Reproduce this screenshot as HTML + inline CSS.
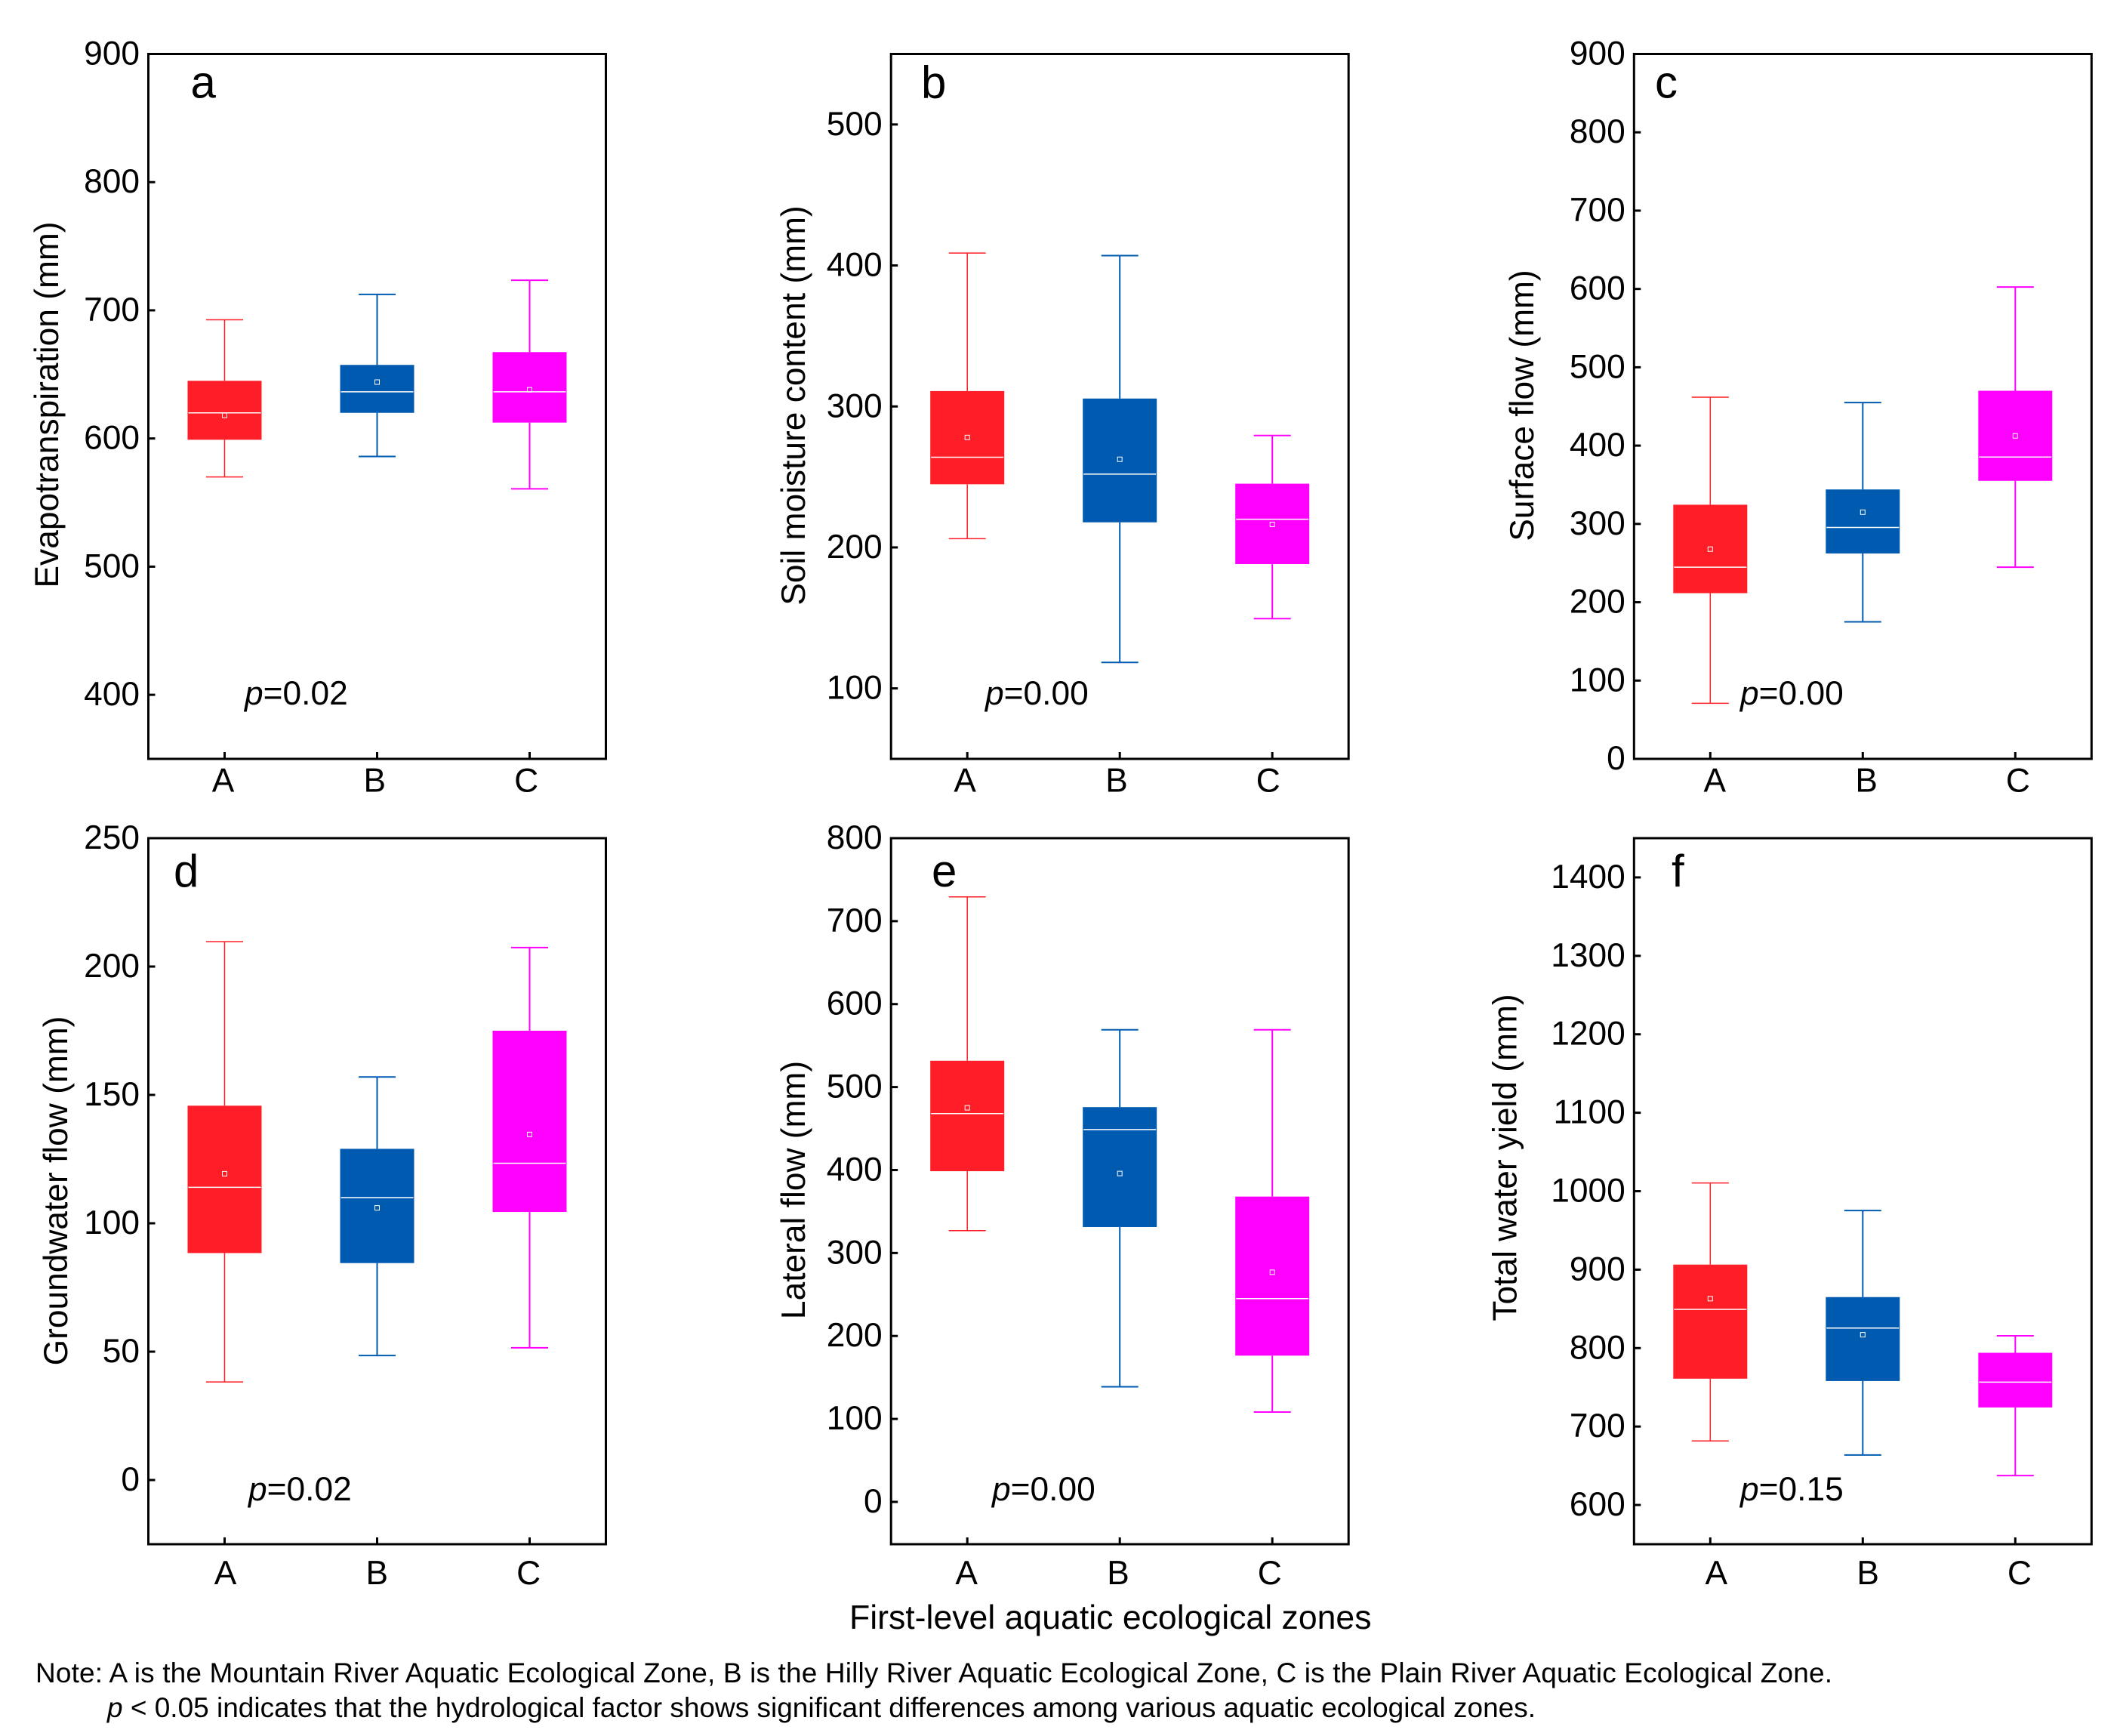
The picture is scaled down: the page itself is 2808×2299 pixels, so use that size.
<!DOCTYPE html>
<html lang="en">
<head>
<meta charset="utf-8">
<title>Hydrological factors across first-level aquatic ecological zones</title>
<style>
  html, body { margin: 0; padding: 0; background: #ffffff; }
  svg { display: block; font-family: "Liberation Sans", Arial, sans-serif; fill: #000; }
</style>
</head>
<body>
<svg id="figure" xmlns="http://www.w3.org/2000/svg" width="2808" height="2299" viewBox="0 0 2808 2299">
  <rect x="0" y="0" width="2808" height="2299" fill="#ffffff"/>
  <g id="panels"></g>

  <g font-size="60">
    <text x="252.5" y="129.5">a</text>
    <text x="1220" y="129.5">b</text>
    <text x="2192" y="129.5">c</text>
    <text x="230" y="1174">d</text>
    <text x="1234" y="1174">e</text>
    <text x="2214" y="1174">f</text>
  </g>

  <g font-size="44.3" text-anchor="middle">
    <text transform="translate(77 536) rotate(-90)">Evapotranspiration (mm)</text>
    <text transform="translate(1066 537) rotate(-90)">Soil moisture content (mm)</text>
    <text transform="translate(2031 537) rotate(-90)">Surface flow (mm)</text>
    <text transform="translate(89 1577) rotate(-90)">Groundwater flow (mm)</text>
    <text transform="translate(1066 1576) rotate(-90)">Lateral flow (mm)</text>
    <text transform="translate(2008.5 1533) rotate(-90)">Total water yield (mm)</text>
  </g>

  <g font-size="44.3">
    <text x="324" y="933"><tspan font-style="italic">p</tspan>=0.02</text>
    <text x="1305" y="933"><tspan font-style="italic">p</tspan>=0.00</text>
    <text x="2305" y="933"><tspan font-style="italic">p</tspan>=0.00</text>
    <text x="329" y="1987"><tspan font-style="italic">p</tspan>=0.02</text>
    <text x="1314" y="1987"><tspan font-style="italic">p</tspan>=0.00</text>
    <text x="2305" y="1987"><tspan font-style="italic">p</tspan>=0.15</text>
  </g>

  <text x="1125" y="2157" font-size="44.6">First-level aquatic ecological zones</text>

  <g font-size="37">
    <text x="47" y="2228" textLength="2380" lengthAdjust="spacing">Note: A is the Mountain River Aquatic Ecological Zone, B is the Hilly River Aquatic Ecological Zone, C is the Plain River Aquatic Ecological Zone.</text>
    <text x="142" y="2274" textLength="1892" lengthAdjust="spacing"><tspan font-style="italic">p</tspan> &lt; 0.05 indicates that the hydrological factor shows significant differences among various aquatic ecological zones.</text>
  </g>
</svg>

<script>
// ---------- chart data ----------
const categories = ['A', 'B', 'C'];

const evapTicks = [400, 500, 600, 700, 800, 900];
const evapHigh = [692.6, 712.4, 723.5];
const evapQ3 = [645, 657.4, 667.4];
const evapMedian = [620, 636.4, 636.4];
const evapMean = [618, 644, 638];
const evapQ1 = [599, 620, 612.4];
const evapLow = [570, 586, 560.7];

const soilTicks = [100, 200, 300, 400, 500];
const soilHigh = [408.8, 407, 279.4];
const soilQ3 = [310.9, 305.6, 245.2];
const soilMedian = [264, 252, 220];
const soilMean = [278, 262.5, 216.3];
const soilQ1 = [244.8, 217.8, 188.2];
const soilLow = [206.2, 118.4, 149.5];

const surfaceTicks = [0, 100, 200, 300, 400, 500, 600, 700, 800, 900];
const surfaceHigh = [461.8, 455, 602.4];
const surfaceQ3 = [324.5, 344, 470];
const surfaceMedian = [244.8, 295.5, 385.4];
const surfaceMean = [267.8, 315, 412.4];
const surfaceQ1 = [211.6, 262.3, 355];
const surfaceLow = [71, 175, 244.8];

const groundTicks = [0, 50, 100, 150, 200, 250];
const groundHigh = [209.7, 157, 207.4];
const groundQ3 = [145.8, 129, 175];
const groundMedian = [114, 110, 123.4];
const groundMean = [119.3, 106, 134.6];
const groundQ1 = [88.4, 84.5, 104.4];
const groundLow = [38.2, 48.5, 51.5];

const lateralTicks = [0, 100, 200, 300, 400, 500, 600, 700, 800];
const lateralHigh = [729.2, 569, 569];
const lateralQ3 = [531.7, 475.8, 368];
const lateralMedian = [468, 448.8, 245];
const lateralMean = [475, 395.8, 276.8];
const lateralQ1 = [398.6, 331.3, 176.3];
const lateralLow = [327, 138.8, 108.3];

const yieldTicks = [600, 700, 800, 900, 1000, 1100, 1200, 1300, 1400];
const yieldHigh = [1010.5, 975.3, 815.7];
const yieldQ3 = [906.4, 865, 794];
const yieldMedian = [849.4, 825.5, 756.6];
const yieldMean = [863, 817, null]; // the mean marker for zone C is not visible in this panel
const yieldQ1 = [761, 758, 724.3];
const yieldLow = [681.6, 663.7, 637.5];

// ---------- layout ----------
const SVG_NS = 'http://www.w3.org/2000/svg';
const seriesColors = ['#ff1e27', '#005bb0', '#ff00ff'];
const whiskerWidths = [1.5, 2, 2];
const FRAME_W = 606;
const BOX_W = 98;
const CAP_W = 49;

const panels = [
  { id: 'a', left: 196.5, top: 71.5, bottom: 1005, domain: [350, 900], ticks: evapTicks, labelDx: -2, labelY: 1048.5,
    high: evapHigh, q3: evapQ3, median: evapMedian, mean: evapMean, q1: evapQ1, low: evapLow },
  { id: 'b', left: 1180.2, top: 71.5, bottom: 1005, domain: [50, 550], ticks: soilTicks, labelDx: -3, labelY: 1048.5,
    high: soilHigh, q3: soilQ3, median: soilMedian, mean: soilMean, q1: soilQ1, low: soilLow },
  { id: 'c', left: 2164.3, top: 71.5, bottom: 1005, domain: [0, 900], ticks: surfaceTicks, labelDx: 6, labelY: 1048.5,
    high: surfaceHigh, q3: surfaceQ3, median: surfaceMedian, mean: surfaceMean, q1: surfaceQ1, low: surfaceLow },
  { id: 'd', left: 196.5, top: 1110, bottom: 2045, domain: [-25, 250], ticks: groundTicks, labelDx: 1, labelY: 2098,
    high: groundHigh, q3: groundQ3, median: groundMedian, mean: groundMean, q1: groundQ1, low: groundLow },
  { id: 'e', left: 1180.2, top: 1110, bottom: 2045, domain: [-51, 800], ticks: lateralTicks, labelDx: -1, labelY: 2098,
    high: lateralHigh, q3: lateralQ3, median: lateralMedian, mean: lateralMean, q1: lateralQ1, low: lateralLow },
  { id: 'f', left: 2164.3, top: 1110, bottom: 2045, domain: [550, 1450], ticks: yieldTicks, labelDx: 8, labelY: 2098,
    high: yieldHigh, q3: yieldQ3, median: yieldMedian, mean: yieldMean, q1: yieldQ1, low: yieldLow }
];

function svgEl(tag, attrs, parent) {
  const el = document.createElementNS(SVG_NS, tag);
  for (const key in attrs) {
    el.setAttribute(key, attrs[key]);
  }
  parent.appendChild(el);
  return el;
}

function seg(x1, y1, x2, y2, stroke, width, parent) {
  return svgEl('line', { x1: x1, y1: y1, x2: x2, y2: y2, stroke: stroke, 'stroke-width': width }, parent);
}

const root = document.getElementById('panels');

panels.forEach(function (p) {
  const yScale = function (v) {
    return p.bottom - (v - p.domain[0]) / (p.domain[1] - p.domain[0]) * (p.bottom - p.top);
  };
  const xScale = function (i) {
    return p.left + FRAME_W * (i + 0.5) / categories.length;
  };

  const group = svgEl('g', {}, root);
  
  

  // boxes and whiskers
  categories.forEach(function (cat, i) {
    const cx = xScale(i);
    const color = seriesColors[i];
    const sw = whiskerWidths[i];
    const box = svgEl('g', {}, group);
    
    

    const upper = seg(cx, yScale(p.high[i]), cx, yScale(p.q3[i]), color, sw, box);
    
    

    const lower = seg(cx, yScale(p.low[i]), cx, yScale(p.q1[i]), color, sw, box);
    
    

    const capHigh = seg(cx - CAP_W / 2, yScale(p.high[i]), cx + CAP_W / 2, yScale(p.high[i]), color, sw, box);
    
    

    const capLow = seg(cx - CAP_W / 2, yScale(p.low[i]), cx + CAP_W / 2, yScale(p.low[i]), color, sw, box);
    
    

    const rect = svgEl('rect', {
      x: cx - BOX_W / 2,
      y: yScale(p.q3[i]),
      width: BOX_W,
      height: yScale(p.q1[i]) - yScale(p.q3[i]),
      fill: color
    }, box);
    
    

    const med = seg(cx - BOX_W / 2 + 1, yScale(p.median[i]), cx + BOX_W / 2 - 1, yScale(p.median[i]), '#ffffff', 1.5, box);
    
    

    if (p.mean[i] !== null) {
      const mean = svgEl('rect', {
        x: cx - 3,
        y: yScale(p.mean[i]) - 3,
        width: 6,
        height: 6,
        fill: 'none',
        stroke: '#ffffff',
        'stroke-width': 1
      }, box);
      
      
    }
  });

  // frame
  const frame = svgEl('rect', {
    x: p.left,
    y: p.top,
    width: FRAME_W,
    height: p.bottom - p.top,
    fill: 'none',
    stroke: '#000000',
    'stroke-width': 3
  }, group);
  
  

  // y axis ticks and labels
  p.ticks.forEach(function (t) {
    const y = yScale(t);
    const tick = seg(p.left, y, p.left + 9, y, '#000000', 3, group);
    
    

    const label = svgEl('text', {
      x: p.left - 11.5,
      y: y + 14,
      'font-size': 44.3,
      'text-anchor': 'end'
    }, group);
    
    
    label.textContent = String(t);
  });

  // x axis ticks and labels
  categories.forEach(function (cat, i) {
    const x = xScale(i);
    const tick = seg(x, p.bottom - 9, x, p.bottom, '#000000', 3, group);
    
    

    const label = svgEl('text', {
      x: x + p.labelDx - 1.2 * i,
      y: p.labelY,
      'font-size': 44.3,
      'text-anchor': 'middle'
    }, group);
    
    
    label.textContent = cat;
  });
});
</script>
</body>
</html>
